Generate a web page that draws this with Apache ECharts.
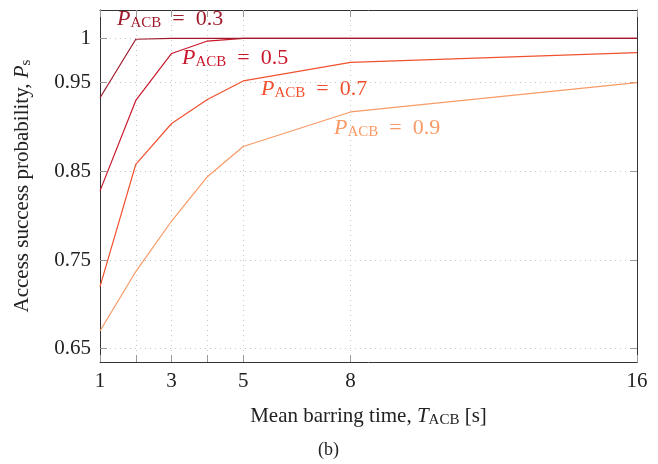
<!DOCTYPE html>
<html><head><meta charset="utf-8">
<script src="https://cdn.jsdelivr.net/npm/echarts@6/dist/echarts.min.js"></script>
<style>html,body{margin:0;padding:0;background:#fff}#c{width:658px;height:464px}</style>
</head><body><div id="c"></div>
<script>
const T = [1, 2, 3, 4, 5, 8, 16];
const p03 = [0.933, 0.999, 1.0, 1.0, 1.0, 1.0, 1.0];
const p05 = [0.828, 0.930, 0.983, 0.997, 1.0, 1.0, 1.0];
const p07 = [0.720, 0.858, 0.904, 0.931, 0.952, 0.973, 0.984];
const p09 = [0.670, 0.737, 0.794, 0.844, 0.878, 0.917, 0.950];
const xTicks = [1, 2, 3, 4, 5, 8, 16];
const xLabels = [1, 3, 5, 8, 16];
const yTicks = [0.65, 0.75, 0.85, 0.95, 1];
const seriesNames = ['0.3', '0.5', '0.7', '0.9'];
const colors = ['#9e1b2c', '#c9182c', '#f0522f', '#f99a66'];
const allData = [p03, p05, p07, p09];

const FONT = '"Liberation Serif", "DejaVu Serif", serif';
const chart = echarts.init(document.getElementById('c'));
const axisLine = {show: true, lineStyle: {color: '#333', width: 1}};
const tickStyle = {color: '#999', width: 1};
const grid = {left: 100, right: 21, top: 10, bottom: 102};

function pair(p, v) { return T.map((t, i) => [t, v[i]]); }
const nameStyle = {fontFamily: FONT, fontSize: 21, color: '#222',
  rich: {i: {fontFamily: FONT, fontStyle: 'italic', fontSize: 21, color: '#222'},
         sub: {fontFamily: FONT, fontSize: 15, color: '#222', padding: [9, 0, 0, 0]}}};

chart.setOption({
  animation: false,
  grid: grid,
  xAxis: [{
    type: 'value', min: 1, max: 16, position: 'bottom',
    name: 'Mean barring time, {i|T}{sub|ACB} [s]',
    nameLocation: 'middle', nameGap: 42,
    nameTextStyle: nameStyle,
    axisLine: axisLine,
    axisTick: {show: true, inside: true, length: 7, lineStyle: tickStyle, customValues: xTicks},
    axisLabel: {show: true, customValues: xLabels, margin: 9, fontFamily: FONT, fontSize: 21, color: '#222'},
    splitLine: {show: true, lineStyle: {color: '#c8c8c8', type: [1, 4], width: 1}}
  }, {
    type: 'value', min: 1, max: 16, position: 'top',
    axisLine: axisLine,
    axisTick: {show: true, inside: true, length: 7, lineStyle: tickStyle, customValues: xTicks},
    axisLabel: {show: false},
    splitLine: {show: false}
  }],
  yAxis: [{
    type: 'value', min: 0.635, max: 1.032, position: 'left',
    name: 'Access success probability, {i|P}{sub|s}',
    nameLocation: 'middle', nameGap: 66, nameRotate: 90,
    nameTextStyle: nameStyle,
    axisLine: axisLine,
    axisTick: {show: true, inside: true, length: 7, lineStyle: tickStyle, customValues: yTicks},
    axisLabel: {show: true, customValues: yTicks, margin: 9, fontFamily: FONT, fontSize: 21, color: '#222',
      formatter: v => String(+v.toFixed(2))},
    splitLine: {show: true, lineStyle: {color: '#c8c8c8', type: [1, 4], width: 1}}
  }, {
    type: 'value', min: 0.635, max: 1.032, position: 'right',
    axisLine: axisLine,
    axisTick: {show: true, inside: true, length: 7, lineStyle: tickStyle, customValues: yTicks},
    axisLabel: {show: false},
    splitLine: {show: false}
  }],
  series: allData.map((d, k) => ({
    type: 'line', name: seriesNames[k], data: pair(T, d), showSymbol: false,
    lineStyle: {color: colors[k], width: 1.2}, itemStyle: {color: colors[k]}, z: 10 - k
  })),
  graphic: [
    ...[[117, 8], [182, 47], [261, 78], [334, 117]].map((pos, k) => ({
      type: 'text', left: pos[0], top: pos[1], z: 100,
      style: {
        text: '{i|P}{sub|ACB}{n|\u2002=\u2002' + seriesNames[k] + '}',
        rich: {
          i: {fontFamily: FONT, fontStyle: 'italic', fontSize: 22, fill: colors[k]},
          sub: {fontFamily: FONT, fontSize: 15, fill: colors[k], padding: [9, 0, 0, 0]},
          n: {fontFamily: FONT, fontSize: 22, fill: colors[k]}
        }
      }
    })),
    {type: 'text', left: 318, top: 441, style: {text: '(b)', fontFamily: FONT, fontSize: 18, fill: '#222'}}
  ]
});
</script></body></html>
